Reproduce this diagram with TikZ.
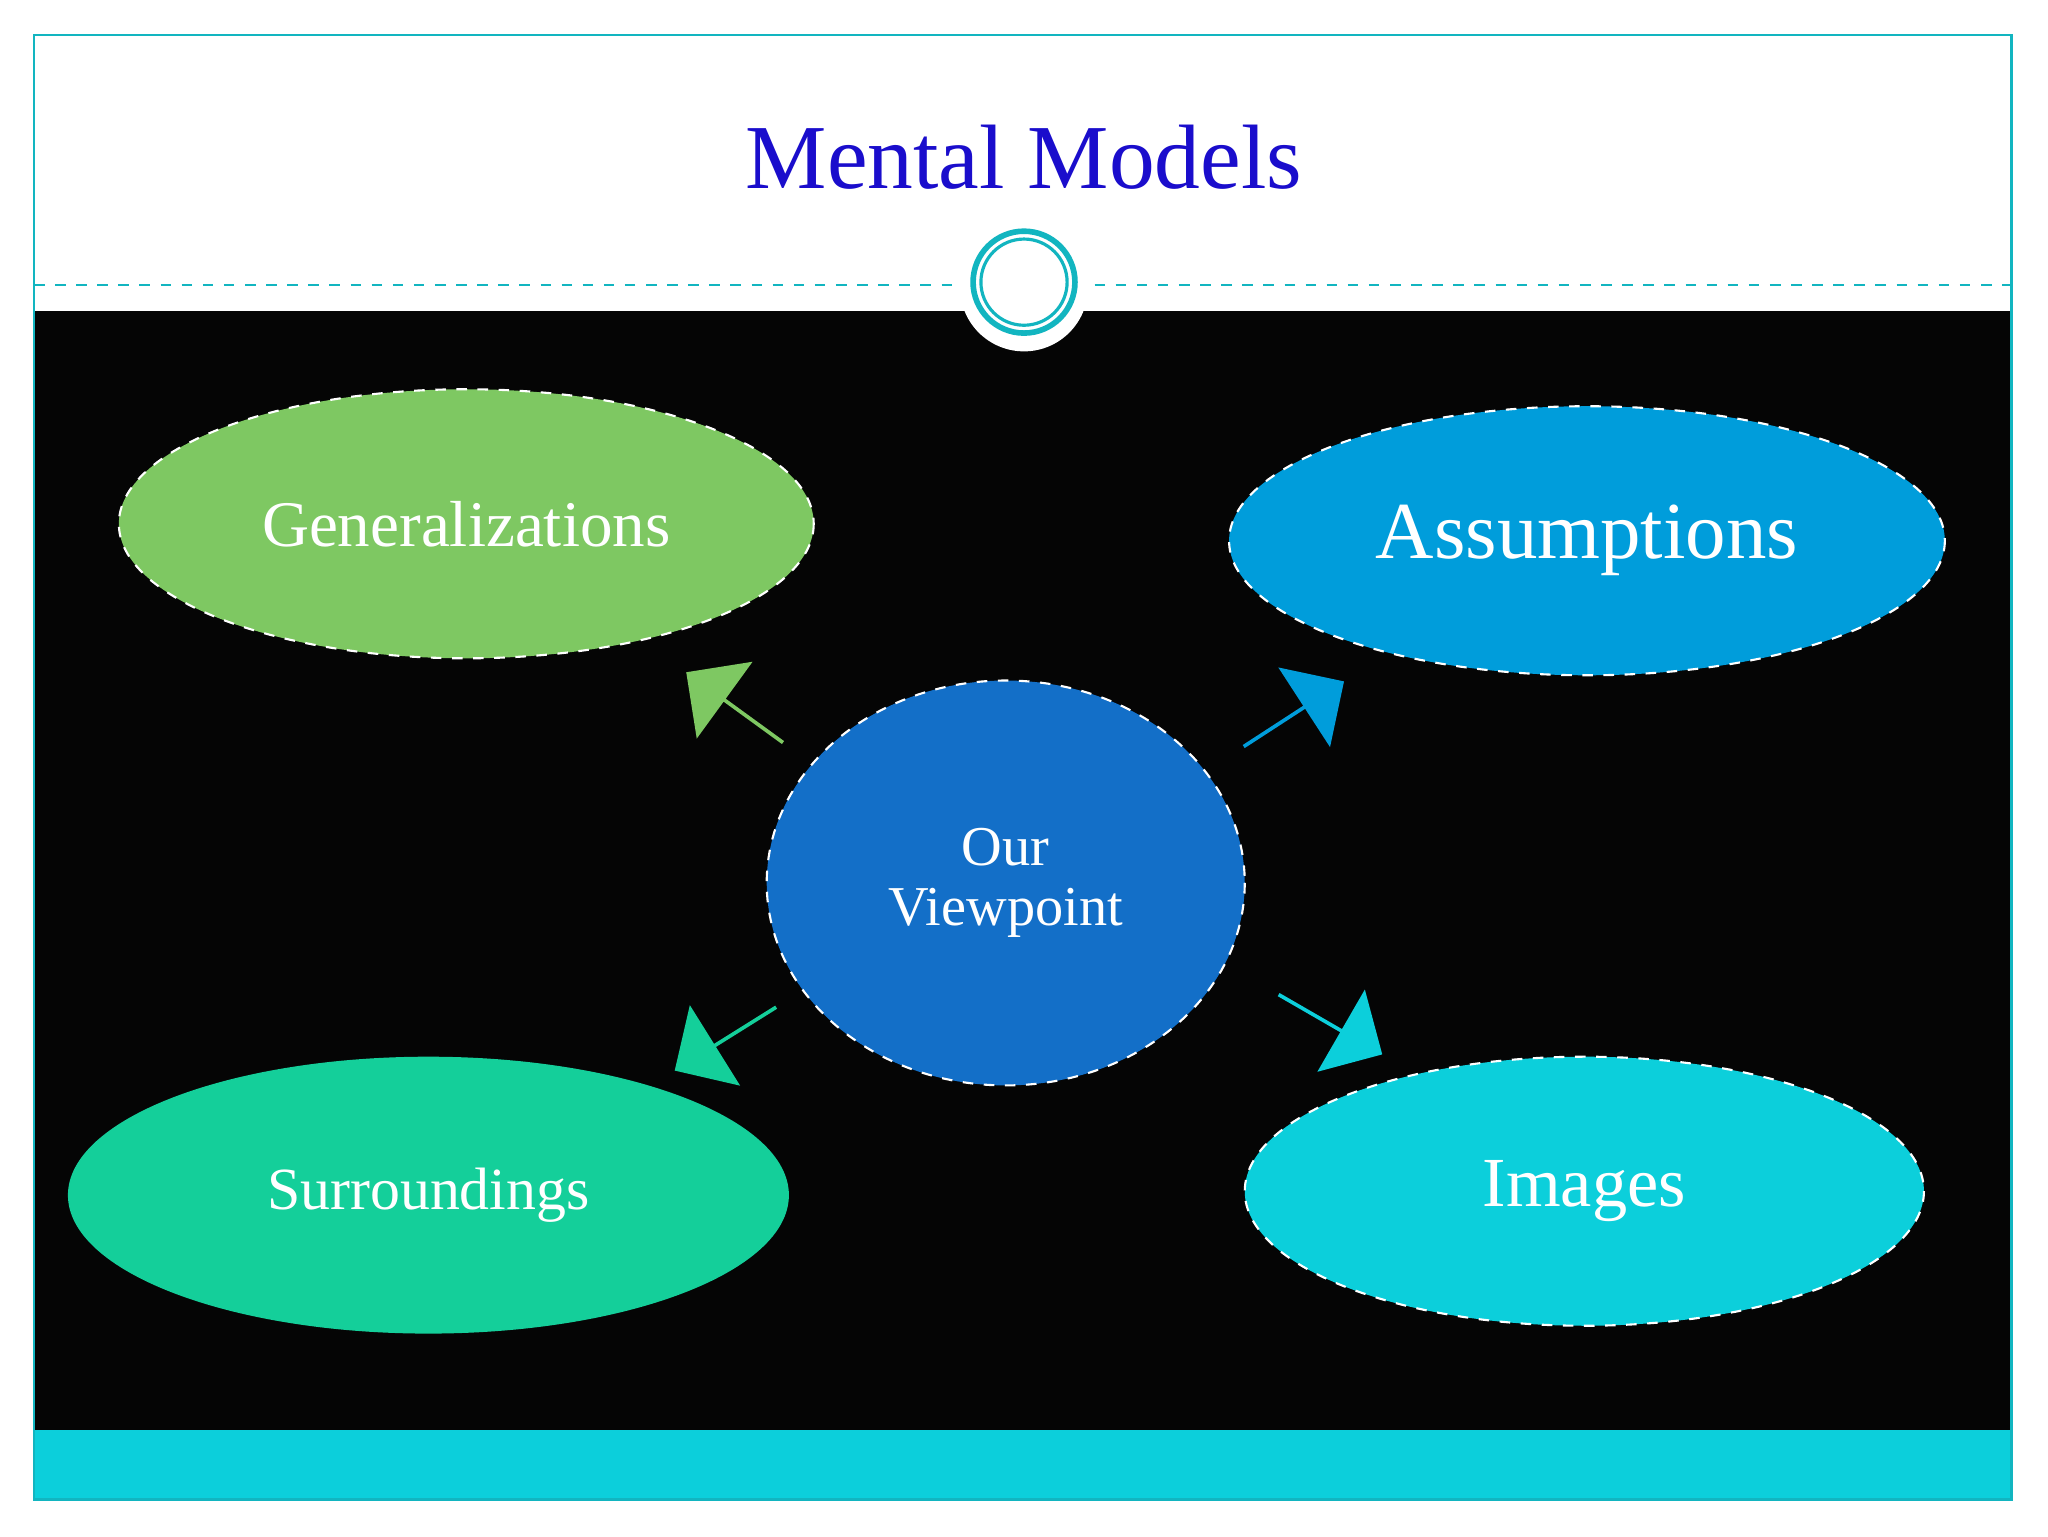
\documentclass[tikz,border=0pt]{standalone}
\usepackage{fontspec}
\setmainfont{Liberation Serif}
\usetikzlibrary{shapes.arrows}
\definecolor{teal1}{HTML}{12B5C0}
\definecolor{titleblue}{HTML}{1A0DCC}
\definecolor{gen}{HTML}{7EC862}
\definecolor{ass}{HTML}{009DDB}
\definecolor{our}{HTML}{136FC8}
\definecolor{sur}{HTML}{14CF9A}
\definecolor{img}{HTML}{0CCFDB}
\begin{document}
\begin{tikzpicture}[x=0.3713pt,y=-0.3713pt,
  ell/.style={draw=white,dashed,line width=0.6pt},
  lbl/.style={text=white,align=center},
  barrow/.style={single arrow,draw=none,minimum height=34pt,minimum width=27pt,single arrow head extend=5pt,inner sep=0pt}]
\useasboundingbox (0,0) rectangle (1568,1176);
\fill[white] (0,0) rectangle (1568,1176);
\fill[black!98] (26,238) rectangle (1540,1095);
\fill[img] (26,1095) rectangle (1540,1148);
\draw[teal1,line width=0.6pt] (26,27) rectangle (1540,1148);
\draw[teal1,dashed,line width=0.6pt] (26,218) -- (730,218);
\draw[teal1,dashed,line width=0.6pt] (838,218) -- (1540,218);
\fill[white] (784,220) circle (49);
\draw[teal1,line width=1.6pt] (784,216) circle (39);
\draw[teal1,line width=0.9pt] (784,216) circle (33);
\node[text=titleblue,font=\fontsize{26}{30}\selectfont] (title) at (784,120) {Mental Models};
\fill[gen,ell] (357,401) ellipse [x radius=266,y radius=103];
\node[lbl,font=\fontsize{18.5}{22}\selectfont] (g) at (357,401) {Generalizations};
\fill[ass,ell] (1215,414) ellipse [x radius=274,y radius=103];
\node[lbl,font=\fontsize{23}{27}\selectfont] (a) at (1215,414) {Assumptions};
\fill[our,ell] (770,676) ellipse [x radius=183,y radius=155];
\node[lbl,font=\fontsize{16}{17}\selectfont] (o) at (770,676) {Our\\Viewpoint};
\fill[sur] (328,915) ellipse [x radius=276,y radius=106];
\node[lbl,font=\fontsize{17}{20}\selectfont] (s) at (328,915) {Surroundings};
\fill[img,ell] (1213,912) ellipse [x radius=260,y radius=103];
\node[lbl,font=\fontsize{20}{24}\selectfont] (i) at (1213,912) {Images};
\node[barrow,fill=gen,rotate=144] (ag) at (563,542) {};
\node[barrow,fill=ass,rotate=33] (aa) at (990,547) {};
\node[barrow,fill=sur,rotate=212] (as) at (556,795) {};
\node[barrow,fill=img,rotate=-30] (ai) at (1018,784) {};
\end{tikzpicture}
\end{document}
